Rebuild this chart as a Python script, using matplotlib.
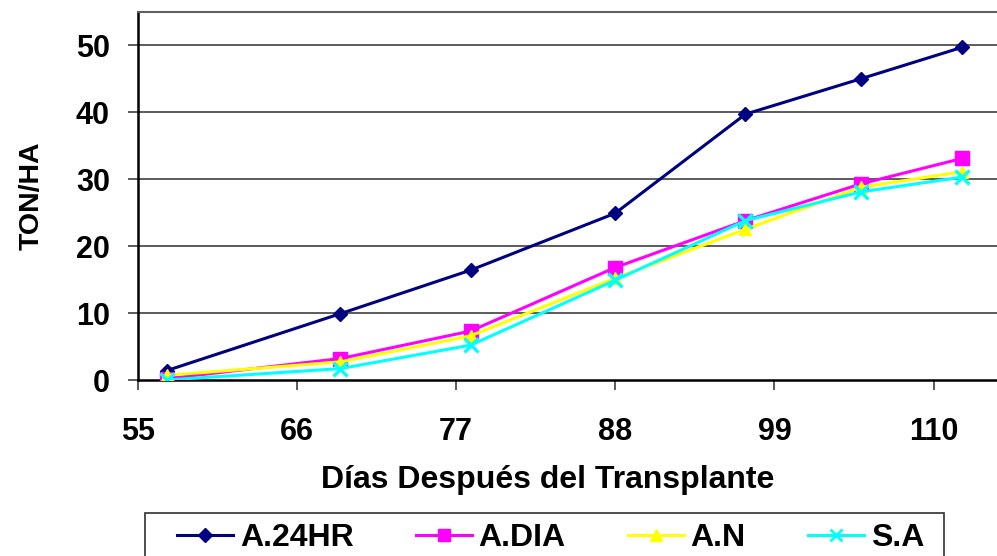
import matplotlib
matplotlib.use("Agg")
import matplotlib.pyplot as plt
from matplotlib.lines import Line2D
from matplotlib.patches import Rectangle

plt.rcParams['font.family'] = ['Liberation Sans', 'DejaVu Sans']
plt.rcParams['font.weight'] = 'bold'

# Data
dias = [57, 69, 78, 88, 97, 105, 112]
a24hr = [1.4, 9.9, 16.4, 24.9, 39.7, 45.0, 49.7]
a_dia = [0.2, 3.2, 7.3, 16.8, 23.8, 29.3, 33.1]
a_n = [0.7, 2.7, 6.6, 15.2, 22.5, 28.8, 31.1]
s_a = [0.0, 1.7, 5.2, 14.9, 23.8, 28.1, 30.3]

x_ticks = [55, 66, 77, 88, 99, 110]
y_ticks = [0, 10, 20, 30, 40, 50]
labels = ['A.24HR', 'A.DIA', 'A.N', 'S.A']

W, H = 997, 556
fig = plt.figure(figsize=(W / 100, H / 100), dpi=100)
ax = fig.add_axes([137.7 / W, 1 - 380 / H, (W - 137.7) / W, (380 - 11.7) / H])

# Series
ax.plot(dias, a24hr, color='#000080', lw=2.2, marker='D', ms=7.5,
        mfc='#000080', mec='#000080', zorder=3)
ax.plot(dias, a_dia, color='#FF00FF', lw=2.2, marker='s', ms=9.5,
        mfc='#FF00FF', mec='#FF00FF', zorder=4)
ax.plot(dias, a_n, color='#FFFF00', lw=2.2, marker='^', ms=9,
        mfc='#FFFF00', mec='#FFFF00', zorder=5)
ax.plot(dias, s_a, color='#00FFFF', lw=2.2, marker='x', ms=9.5,
        mew=2.4, mec='#00FFFF', zorder=6)

ax.set_xlim(55, 55 + (W - 137.7) / 14.47)
ax.set_ylim(0, 55)
ax.set_xticks(x_ticks)
ax.set_yticks(y_ticks)

# Gridlines and frame
for v in y_ticks[1:]:
    ax.axhline(v, color='#404040', lw=1.2, zorder=1)
ax.spines['top'].set_color('#606060')
ax.spines['top'].set_linewidth(1.5)
ax.spines['right'].set_visible(False)
ax.spines['left'].set_color('black')
ax.spines['left'].set_linewidth(1.8)
ax.spines['bottom'].set_color('black')
ax.spines['bottom'].set_linewidth(1.8)

ax.tick_params(axis='both', direction='out', length=7, width=1.2,
               color='#404040', labelsize=22)
ax.tick_params(axis='x', pad=20)
ax.tick_params(axis='y', pad=13)
for lab in ax.get_xticklabels() + ax.get_yticklabels():
    lab.set_fontweight('bold')

ax.set_xlabel('Días Después del Transplante', fontsize=23, fontweight='bold')
ax.xaxis.set_label_coords((547.7 - 137.7) / (W - 137.7), (380 - 465) / 368.3)
ax.set_ylabel('TON/HA', fontsize=20.5, fontweight='bold', va='center')
ax.yaxis.set_label_coords((32 - 137.7) / (W - 137.7), 0.5)

# Legend with separate small markers, frame drawn as a patch
handles = [
    Line2D([], [], color='#000080', lw=2.2, marker='D', ms=7, mfc='#000080', mec='#000080'),
    Line2D([], [], color='#FF00FF', lw=2.2, marker='s', ms=8.5, mfc='#FF00FF', mec='#FF00FF'),
    Line2D([], [], color='#FFFF00', lw=2.2, marker='^', ms=8.5, mfc='#FFFF00', mec='#FFFF00'),
    Line2D([], [], color='#00FFFF', lw=2.2, marker='x', ms=8.5, mew=2, mec='#00FFFF'),
]
fig.legend(handles, labels, loc='center left', bbox_to_anchor=(177 / W, 1 - 538 / H),
           ncol=4, frameon=False, prop={'size': 23, 'weight': 'bold'},
           handlelength=1.75, handletextpad=0.22, columnspacing=1.94,
           borderpad=0.0, borderaxespad=0.0)
fig.patches.append(Rectangle((145 / W, -0.05), (944.3 - 145) / W, 0.05 + (H - 512.7) / H,
                             transform=fig.transFigure, fill=False,
                             edgecolor='#303030', lw=1.2))

fig.savefig('out.png', dpi=100)
